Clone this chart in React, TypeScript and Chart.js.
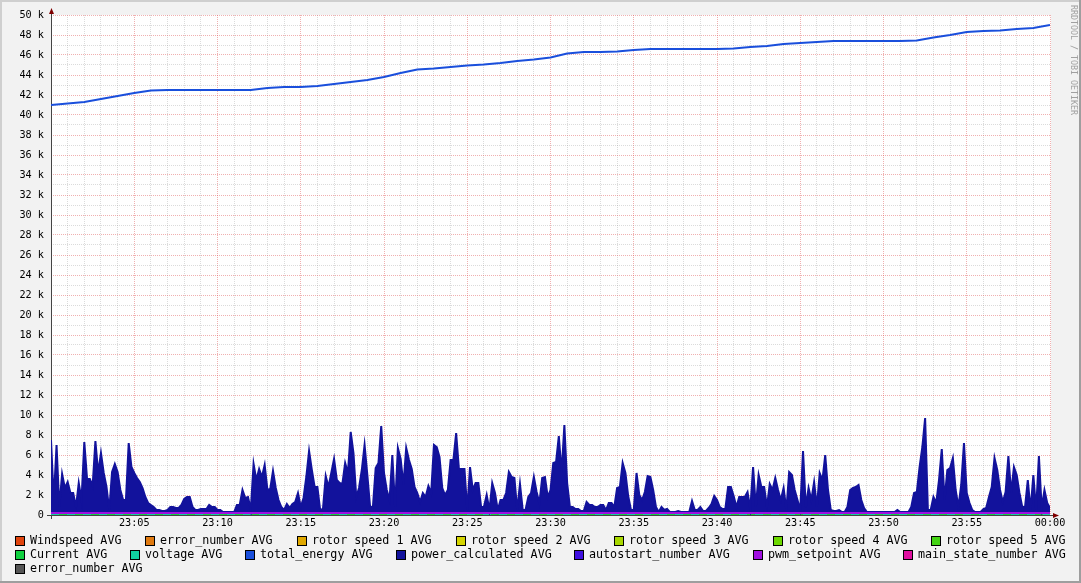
import React, { useEffect, useRef } from 'react';
import { Chart, registerables } from 'chart.js';

Chart.register(...registerables);

const FONT = "'DejaVu Sans Mono', monospace";
const MINUTES_SPAN = 60;

const xTickLabels = ['23:05', '23:10', '23:15', '23:20', '23:25', '23:30', '23:35', '23:40', '23:45', '23:50', '23:55', '00:00'];
const yTickLabels = ['0', '2 k', '4 k', '6 k', '8 k', '10 k', '12 k', '14 k', '16 k', '18 k', '20 k', '22 k', '24 k', '26 k',
  '28 k', '30 k', '32 k', '34 k', '36 k', '38 k', '40 k', '42 k', '44 k', '46 k', '48 k', '50 k'];

const legendLabels = [
  'Windspeed AVG', 'error_number AVG', 'rotor speed 1 AVG', 'rotor speed 2 AVG', 'rotor speed 3 AVG', 'rotor speed 4 AVG', 'rotor speed 5 AVG',
  'Current AVG', 'voltage AVG', 'total_energy AVG', 'power_calculated AVG', 'autostart_number AVG', 'pwm_setpoint AVG', 'main_state_number AVG',
  'error_number AVG',
];
const seriesColors = [
  '#e0440e', '#e07a10', '#e0a800', '#d4d400', '#a8d800', '#6cd800', '#44d414',
  '#10d040', '#10d0a0', '#1a4fdc', '#12129c', '#4010e0', '#a010e0', '#e010a0',
  '#555555',
];

// values in k (thousands); flat series span the full hour
const windspeedAvg = [0, 0];
const errorNumberAvg = [0, 0];
const rotorSpeed1Avg = [0, 0];
const rotorSpeed2Avg = [0, 0];
const rotorSpeed3Avg = [0, 0];
const rotorSpeed4Avg = [0, 0];
const rotorSpeed5Avg = [0, 0];
const currentAvg = [0, 0];
const voltageAvg = [0, 0];
const autostartNumberAvg = [0, 0];
const pwmSetpointAvg = [0.2, 0.2];
const mainStateNumberAvg = [0.2, 0.2];
const errorNumber2Avg = [0, 0];

// one value per minute, 23:00 .. 00:00
const totalEnergyAvg = [
  41.0, 41.15, 41.3, 41.6, 41.9, 42.2, 42.45, 42.5, 42.5, 42.5,
  42.5, 42.5, 42.5, 42.7, 42.8, 42.8, 42.9, 43.1, 43.3, 43.5,
  43.8, 44.2, 44.55, 44.65, 44.8, 44.95, 45.05, 45.2, 45.4, 45.55,
  45.75, 46.15, 46.3, 46.3, 46.35, 46.5, 46.6, 46.6, 46.6, 46.6,
  46.6, 46.65, 46.8, 46.9, 47.1, 47.2, 47.3, 47.4, 47.4, 47.4,
  47.4, 47.4, 47.45, 47.75, 48.0, 48.3, 48.4, 48.45, 48.6, 48.7,
  49.0,
];

// one value every 10 s, 23:00 .. 00:00 (six per row = one minute)
const powerCalculatedAvg = [
  7.5, 1.5, 7.0, 0.8, 4.1, 2.7,
  3.3, 2.2, 2.2, 0.8, 3.2, 1.5,
  7.3, 3.6, 3.6, 2.9, 7.4, 4.2,
  6.2, 4.2, 2.8, 0.5, 4.3, 5.1,
  4.3, 2.5, 1.5, 1.5, 7.2, 4.8,
  4.2, 3.7, 3.3, 2.7, 1.8, 1.2,
  1.0, 0.8, 0.5, 0.5, 0.4, 0.4,
  0.5, 0.8, 0.8, 0.7, 0.7, 1.0,
  1.6, 1.8, 1.8, 0.8, 0.5, 0.5,
  0.6, 0.6, 0.6, 1.0, 0.8, 0.8,
  0.5, 0.5, 0.3, 0.3, 0.3, 0.3,
  0.3, 1.0, 1.0, 2.5, 1.7, 1.8,
  0.5, 5.1, 3.5, 4.6, 3.8, 5.0,
  2.5, 2.6, 4.4, 2.7, 1.5, 0.8,
  0.5, 1.1, 0.7, 1.1, 1.3, 2.2,
  0.8, 1.7, 3.8, 6.4, 4.5, 2.8,
  2.8, 0.5, 0.6, 3.9, 2.8, 4.2,
  5.6, 3.5, 3.2, 3.1, 5.2, 4.2,
  8.3, 6.2, 1.8, 2.7, 4.5, 7.0,
  4.0, 0.8, 0.8, 4.7, 5.2, 8.9,
  4.2, 2.5, 1.5, 6.0, 0.8, 6.7,
  5.6, 3.0, 6.7, 5.5, 4.6, 2.8,
  2.2, 1.3, 2.2, 1.8, 2.9, 2.2,
  7.0, 6.8, 5.8, 2.7, 2.0, 2.5,
  5.5, 5.5, 8.2, 4.6, 4.6, 4.6,
  0.5, 4.8, 2.5, 3.2, 3.2, 0.8,
  0.8, 2.0, 0.5, 3.2, 2.2, 0.5,
  1.5, 1.5, 2.2, 4.3, 3.8, 3.7,
  0.5, 3.1, 0.5, 0.5, 1.8, 2.2,
  3.8, 2.3, 1.2, 3.7, 3.8, 1.8,
  2.5, 5.2, 5.3, 7.9, 4.2, 9.0,
  3.2, 0.8, 0.8, 0.6, 0.6, 0.4,
  0.4, 1.3, 1.0, 1.0, 0.8, 0.8,
  1.0, 1.0, 0.5, 1.2, 1.2, 0.8,
  2.7, 2.8, 5.2, 4.2, 1.9, 0.5,
  0.5, 4.2, 2.0, 1.5, 2.3, 3.9,
  3.8, 2.5, 0.8, 0.3, 0.8, 0.5,
  0.6, 0.3, 0.3, 0.3, 0.4, 0.3,
  0.3, 0.3, 0.3, 1.4, 0.5, 0.5,
  0.8, 0.4, 0.4, 0.7, 1.1, 1.9,
  1.5, 0.8, 0.6, 0.6, 2.8, 2.8,
  1.9, 0.8, 1.8, 1.8, 1.8, 2.3,
  0.6, 4.8, 0.8, 4.0, 2.8, 2.8,
  0.8, 3.1, 2.5, 3.7, 2.5, 1.5,
  2.7, 0.5, 4.3, 4.0, 2.5, 1.5,
  0.5, 6.4, 0.8, 2.7, 1.5, 3.3,
  0.8, 4.2, 3.5, 6.0, 2.5, 0.5,
  0.4, 0.4, 0.5, 0.3, 0.3, 0.8,
  2.5, 2.7, 2.8, 3.0, 1.5, 0.7,
  0.3, 0.3, 0.3, 0.3, 0.3, 0.3,
  0.3, 0.3, 0.3, 0.3, 0.3, 0.5,
  0.3, 0.3, 0.3, 0.3, 0.8, 2.2,
  2.3, 4.8, 6.8, 9.7, 0.5, 0.5,
  1.8, 1.2, 3.5, 6.6, 1.5, 4.5,
  4.7, 5.7, 2.5, 0.8, 3.0, 7.2,
  2.2, 1.2, 0.5, 0.3, 0.3, 0.3,
  0.6, 0.7, 1.8, 2.8, 5.7, 4.5,
  2.5, 1.3, 2.3, 5.9, 2.2, 4.8,
  4.0, 2.2, 0.8, 0.8, 3.5, 0.5,
  4.0, 0.5, 5.9, 0.7, 2.5, 1.2,
  0.7,
];

const MINOR_GRID = 'rgba(143,143,143,0.32)';
const MAJOR_GRID = 'rgba(222,80,80,0.45)';

// spread an evenly sampled series over the hour
function toPoints(values: number[]) {
  const n = values.length - 1;
  return values.map((y, i) => ({ x: (i * MINUTES_SPAN) / n, y }));
}

function ds(i: number, values: number[], order: number, extra: any = {}) {
  return {
    label: legendLabels[i],
    data: toPoints(values),
    borderColor: seriesColors[i],
    backgroundColor: seriesColors[i],
    borderWidth: 2,
    pointRadius: 0,
    fill: false,
    tension: 0,
    order,
    ...extra,
  };
}

const rrdPlugin = {
  id: 'rrdFrame',
  beforeDraw(chart: any) {
    const { ctx, width, height, chartArea: a } = chart;
    ctx.save();
    ctx.fillStyle = '#f2f2f2';
    ctx.fillRect(0, 0, width, height);
    ctx.fillStyle = '#cfcfcf';
    ctx.fillRect(0, 0, width, 2);
    ctx.fillRect(0, 0, 2, height);
    ctx.fillStyle = '#9e9e9e';
    ctx.fillRect(0, height - 2, width, 2);
    ctx.fillRect(width - 2, 0, 2, height);
    ctx.fillStyle = '#ffffff';
    ctx.fillRect(a.left, a.top, a.right - a.left + 1, a.bottom - a.top + 1);
    ctx.restore();
  },
  beforeDatasetsDraw(chart: any) {
    const { ctx, chartArea: a } = chart;
    ctx.save();
    ctx.strokeStyle = '#444444';
    ctx.lineWidth = 1;
    ctx.beginPath();
    ctx.moveTo(a.left - 4, a.bottom + 0.5);
    ctx.lineTo(a.right + 5, a.bottom + 0.5);
    ctx.moveTo(a.left + 0.5, a.bottom + 4);
    ctx.lineTo(a.left + 0.5, a.top - 3);
    ctx.stroke();
    ctx.restore();
  },
  afterDraw(chart: any) {
    const { ctx, chartArea: a } = chart;
    ctx.save();
    // arrows
    ctx.fillStyle = '#800000';
    ctx.beginPath();
    ctx.moveTo(a.left - 2, a.top - 1);
    ctx.lineTo(a.left + 3, a.top - 1);
    ctx.lineTo(a.left + 0.5, a.top - 7);
    ctx.closePath();
    ctx.fill();
    ctx.beginPath();
    ctx.moveTo(a.right + 3, a.bottom - 2);
    ctx.lineTo(a.right + 3, a.bottom + 3);
    ctx.lineTo(a.right + 9, a.bottom + 0.5);
    ctx.closePath();
    ctx.fill();

    // legend
    ctx.font = `11.7px ${FONT}`;
    ctx.textBaseline = 'middle';
    ctx.textAlign = 'left';
    const rows = [[0, 1, 2, 3, 4, 5, 6], [7, 8, 9, 10, 11, 12, 13], [14]];
    const rowY = [541, 555, 569];
    const left = 15;
    const right = 1066;
    rows.forEach((row, r) => {
      const widths = row.map((i) => 15 + ctx.measureText(legendLabels[i]).width);
      const sum = widths.reduce((s, w) => s + w, 0);
      const gap = r < rows.length - 1 && row.length > 1 ? (right - left - sum) / (row.length - 1) : 0;
      let x = left;
      row.forEach((i, k) => {
        const bx = Math.round(x);
        const by = rowY[r] - 5;
        ctx.fillStyle = seriesColors[i];
        ctx.fillRect(bx, by, 10, 10);
        ctx.strokeStyle = '#000000';
        ctx.lineWidth = 1;
        ctx.strokeRect(bx + 0.5, by + 0.5, 9, 9);
        ctx.fillStyle = '#000000';
        ctx.fillText(legendLabels[i], bx + 15, rowY[r]);
        x += widths[k] + gap;
      });
    });

    // watermark
    ctx.font = `8.3px ${FONT}`;
    ctx.fillStyle = '#a0a0a0';
    ctx.translate(1073, 5);
    ctx.rotate(Math.PI / 2);
    ctx.textBaseline = 'middle';
    ctx.fillText('RRDTOOL / TOBI OETIKER', 0, 0);
    ctx.restore();
  },
};

export default function App() {
  const ref = useRef<HTMLCanvasElement>(null);

  useEffect(() => {
    const canvas = ref.current;
    if (!canvas) return;
    const gridColor = (c: any) => (c.tick && Math.round(c.tick.value) % (c.scale.axis === 'x' ? 5 : 2) === 0 ? MAJOR_GRID : MINOR_GRID);
    const chart = new Chart(canvas, {
      type: 'line',
      data: {
        datasets: [
          ds(0, windspeedAvg, 20),
          ds(1, errorNumberAvg, 19),
          ds(2, rotorSpeed1Avg, 18),
          ds(3, rotorSpeed2Avg, 17),
          ds(4, rotorSpeed3Avg, 16),
          ds(5, rotorSpeed4Avg, 15),
          ds(6, rotorSpeed5Avg, 14),
          ds(7, currentAvg, 11),
          ds(8, voltageAvg, 10, { borderDash: [8, 8] }),
          ds(9, totalEnergyAvg, 9),
          ds(10, powerCalculatedAvg, 8, { fill: { value: 0.25 } }),
          ds(11, autostartNumberAvg, 13),
          ds(12, pwmSetpointAvg, 6),
          ds(13, mainStateNumberAvg, 7),
          ds(14, errorNumber2Avg, 12),
        ] as any,
      },
      options: {
        animation: false,
        responsive: false,
        devicePixelRatio: 1,
        events: [],
        layout: { padding: { left: 0, right: 31, top: 15, bottom: 0 } },
        plugins: { legend: { display: false }, tooltip: { enabled: false } },
        elements: { point: { radius: 0 } },
        scales: {
          x: {
            type: 'linear',
            min: 0,
            max: MINUTES_SPAN,
            afterFit: (s: any) => { s.height = 68; },
            grid: { color: gridColor, lineWidth: 1, drawTicks: false },
            border: { display: false, dash: [1, 1] },
            ticks: {
              stepSize: 1,
              autoSkip: false,
              maxRotation: 0,
              minRotation: 0,
              padding: 2,
              color: '#000000',
              font: { family: FONT, size: 10.2 },
              callback: (v: any) => {
                const m = Math.round(Number(v));
                return m > 0 && m % 5 === 0 ? xTickLabels[m / 5 - 1] : '';
              },
            },
          },
          y: {
            type: 'linear',
            min: 0,
            max: 50,
            afterFit: (s: any) => { s.width = 51; },
            grid: { color: gridColor, lineWidth: 1, drawTicks: false },
            border: { display: false, dash: [1, 1] },
            ticks: {
              stepSize: 1,
              autoSkip: false,
              padding: 7,
              color: '#000000',
              font: { family: FONT, size: 10.2 },
              callback: (v: any) => {
                const k = Math.round(Number(v));
                return k % 2 === 0 ? yTickLabels[k / 2] : '';
              },
            },
          },
        },
      } as any,
      plugins: [rrdPlugin],
    });
    return () => chart.destroy();
  }, []);

  return (
    <div style={{ position: 'absolute', left: 0, top: 0, width: 1081, height: 583 }}>
      <canvas ref={ref} width={1081} height={583} style={{ display: 'block', width: 1081, height: 583 }} />
    </div>
  );
}
